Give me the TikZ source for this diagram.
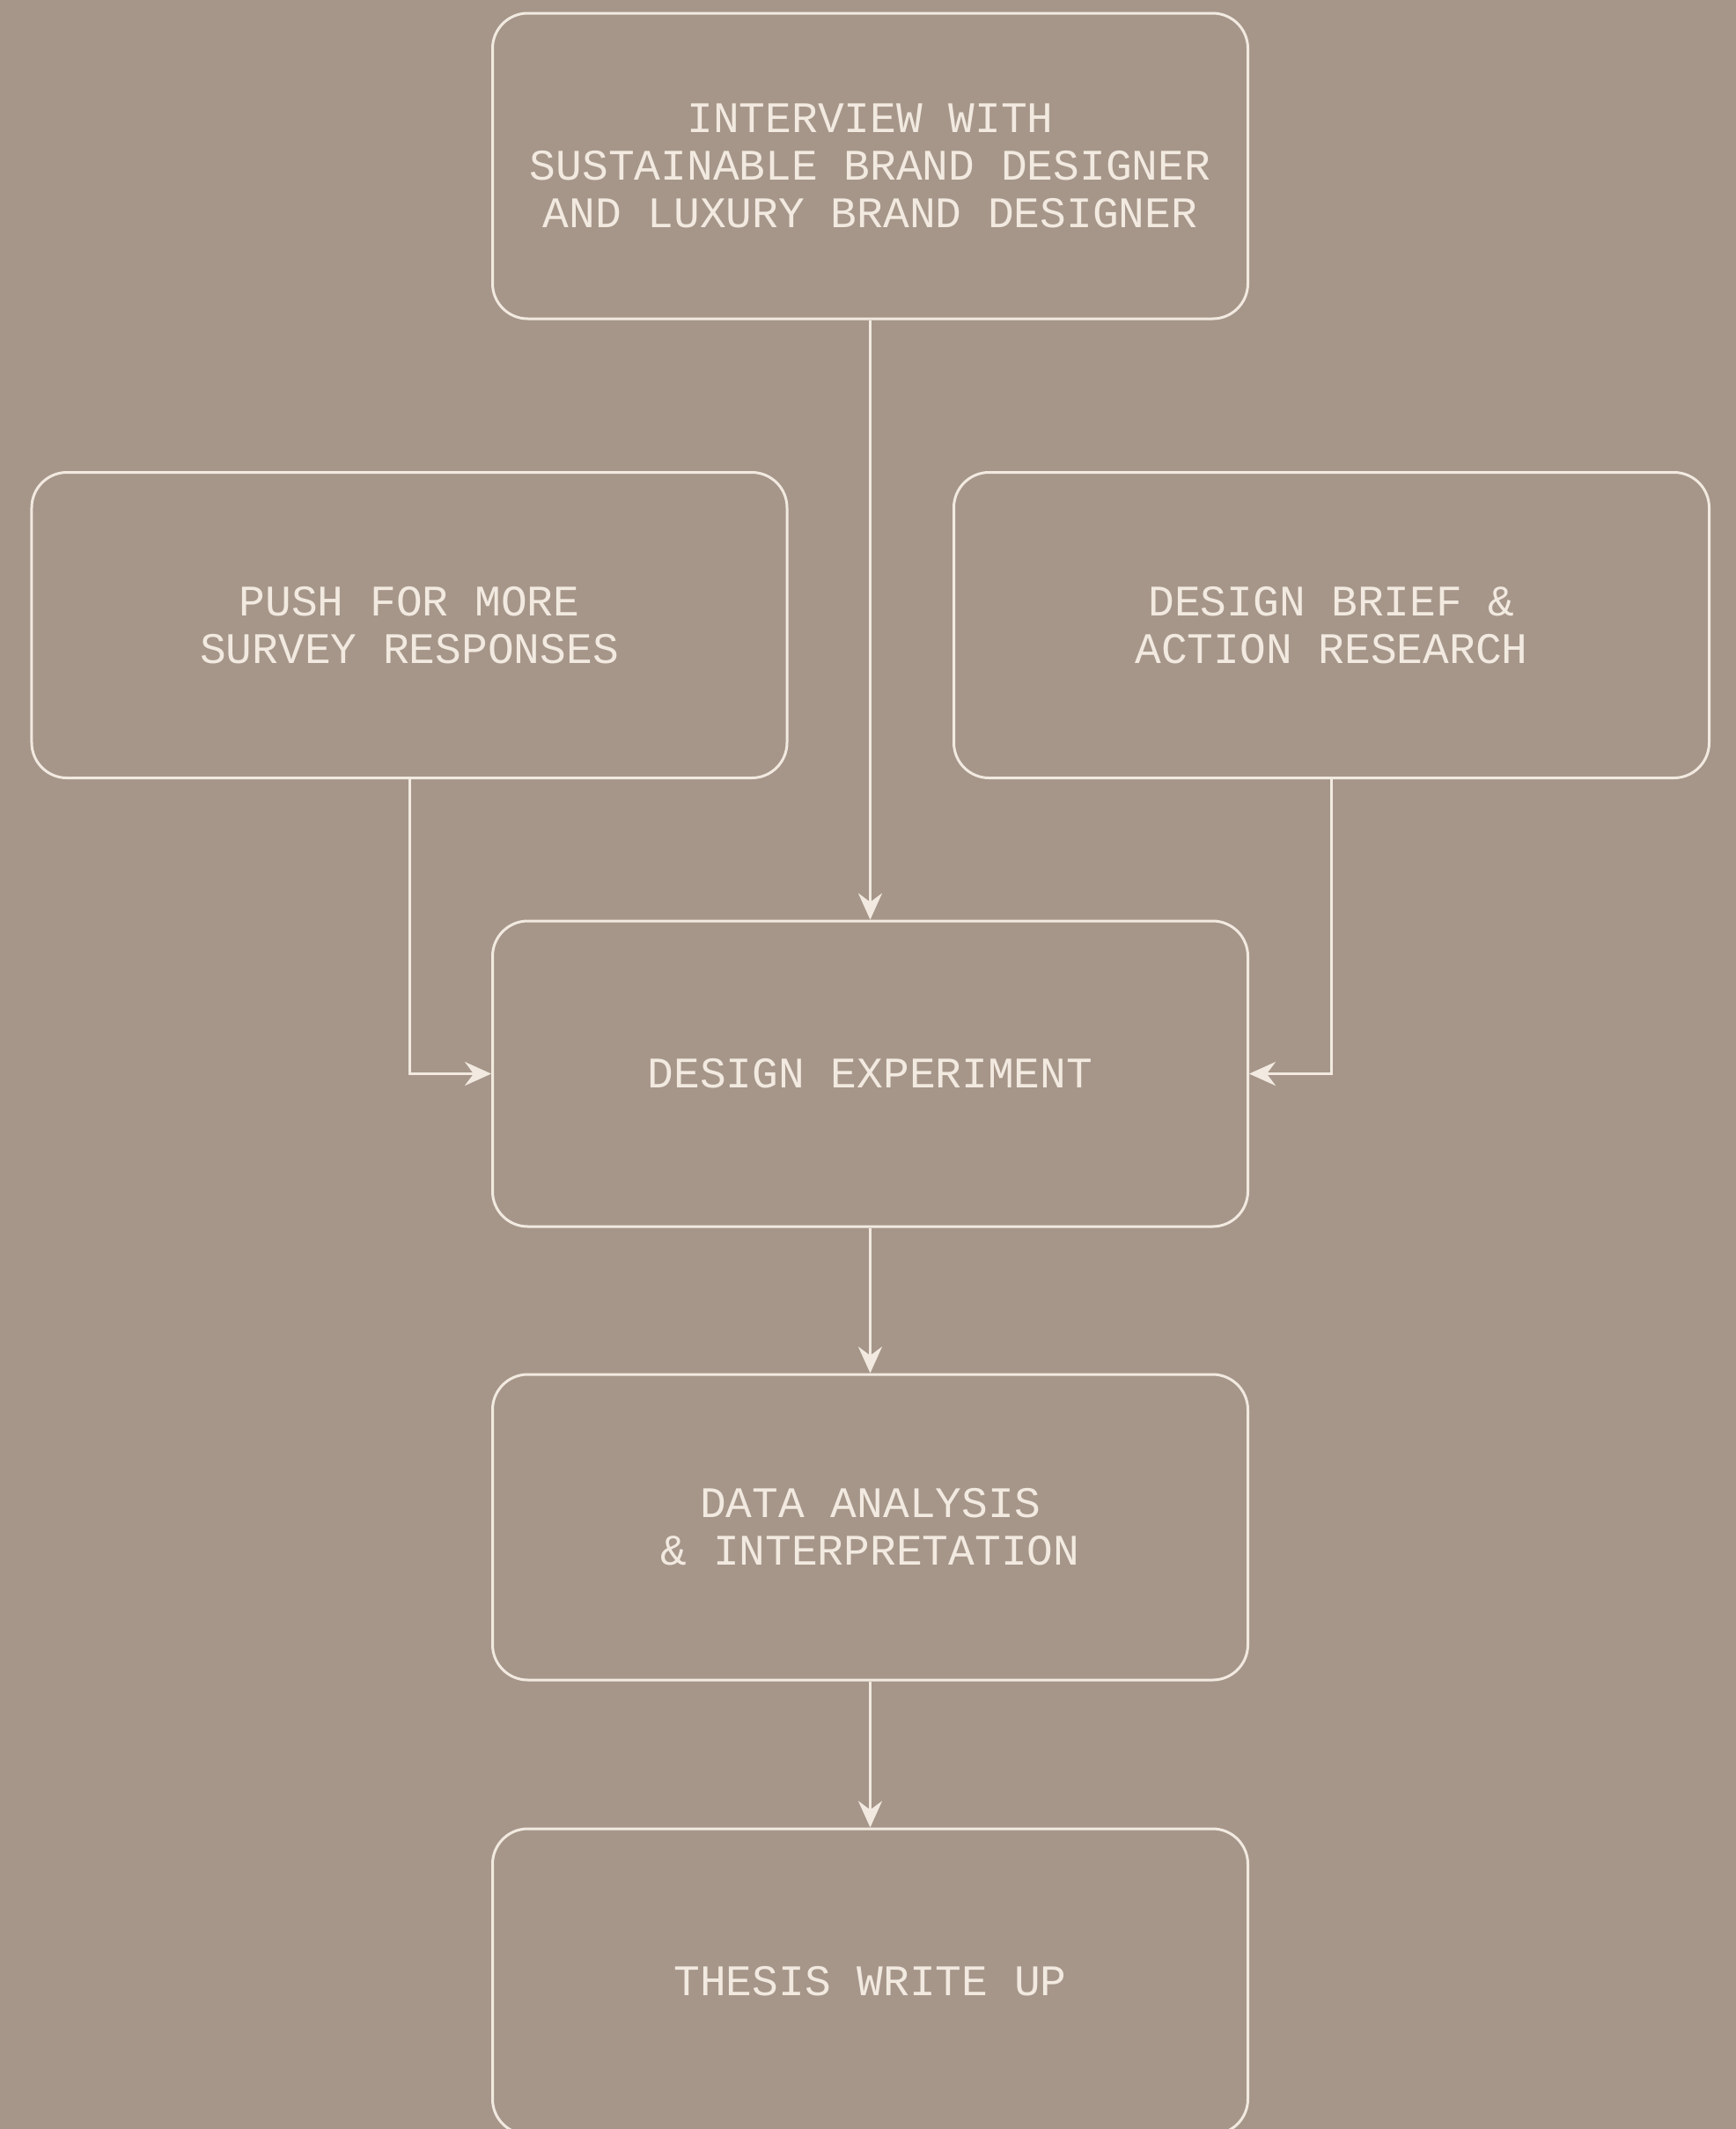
\documentclass[tikz,border=0pt]{standalone}
\usepackage{fontspec}
\newfontfamily\flowfont{Liberation Mono}
\usetikzlibrary{arrows.meta}
\definecolor{paper}{RGB}{166,150,137}
\definecolor{ink}{RGB}{242,234,224}
\tikzset{
  stage/.style={draw=ink, line width=0.03cm, rounded corners=0.4cm,
    minimum width=8.58cm, minimum height=3.47cm, inner sep=0pt,
    align=center, text=ink, font=\flowfont\fontsize{14.1pt}{15.4pt}\selectfont},
  flow/.style={draw=ink, line width=0.03cm,
    -{Stealth[length=0.3cm,width=0.27cm,inset=0.1cm]}}
}
\begin{document}
\begin{tikzpicture}
  \fill[paper] (0,0) rectangle (19.72,-24.18);
  \useasboundingbox (0,0) rectangle (19.72,-24.18);
  \begin{scope}
    \clip (0,0) rectangle (19.72,-24.18);
    \node[stage] (inter)  at (9.885,-1.885)  {INTERVIEW WITH\\SUSTAINABLE BRAND DESIGNER\\AND LUXURY BRAND DESIGNER};
    \node[stage] (push)   at (4.65,-7.10)    {PUSH FOR MORE\\SURVEY RESPONSES};
    \node[stage] (brief)  at (15.125,-7.10)  {DESIGN BRIEF \&\\ACTION RESEARCH};
    \node[stage] (exper)  at (9.885,-12.195) {DESIGN EXPERIMENT};
    \node[stage] (data)   at (9.885,-17.345) {DATA ANALYSIS\\\& INTERPRETATION};
    \node[stage] (thesis) at (9.885,-22.505) {THESIS WRITE UP};
    \draw[flow] (inter) -- (exper);
    \draw[flow] (push.south) |- (exper.west);
    \draw[flow] (brief.south) |- (exper.east);
    \draw[flow] (exper) -- (data);
    \draw[flow] (data) -- (thesis);
  \end{scope}
\end{tikzpicture}
\end{document}
